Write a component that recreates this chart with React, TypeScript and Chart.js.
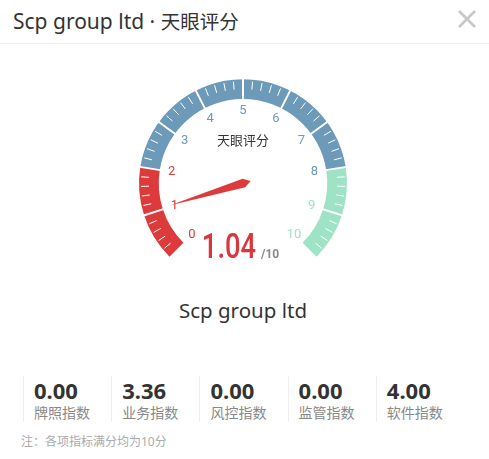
import React, { useEffect, useRef } from 'react';
import { Chart, registerables } from 'chart.js';

Chart.register(...registerables);

// ---- data ----
const segmentNames = ['低', '中', '高'];
const segmentSizes = [2, 6, 2];
const segmentColors = ['#dd3b3b', '#6c9ab8', '#9fe3c7'];
const tickLabels = ['0', '1', '2', '3', '4', '5', '6', '7', '8', '9', '10'];
const scoreValue = 1.04;
const scoreMax = 10;
const gaugeTitle = '天眼评分';
const companyName = 'Scp group ltd';
const headerName = 'Scp group ltd · ';
const headerSuffix = '天眼评分';
const indexNames = ['牌照指数', '业务指数', '风控指数', '监管指数', '软件指数'];
const indexValues = [0.0, 3.36, 0.0, 0.0, 4.0];
const noteText = '注：各项指标满分均为10分';

const FONT = "'Noto Sans', 'Noto Sans CJK SC', sans-serif";

function colorFor(v: number): string {
  let acc = 0;
  for (let i = 0; i < segmentSizes.length; i++) {
    acc += segmentSizes[i];
    if (v <= acc) return segmentColors[i];
  }
  return segmentColors[segmentColors.length - 1];
}

const gaugePlugin = {
  id: 'gaugeDecor',
  afterDatasetsDraw(chart: any) {
    const meta = chart.getDatasetMeta(0);
    const arcs = meta.data as any[];
    if (!arcs.length) return;
    const first = arcs[0];
    const last = arcs[arcs.length - 1];
    const cx = first.x;
    const cy = first.y;
    const R = first.outerRadius;
    const r = first.innerRadius;
    const a0 = first.startAngle;
    const a1 = last.endAngle;
    const ang = (v: number) => a0 + ((a1 - a0) * v) / scoreMax;
    const ctx: CanvasRenderingContext2D = chart.ctx;
    ctx.save();
    // ticks
    ctx.strokeStyle = '#ffffff';
    const sub = 5;
    for (let i = 0; i <= scoreMax * sub; i++) {
      const a = ang(i / sub);
      const c = Math.cos(a);
      const s = Math.sin(a);
      if (i % sub === 0) {
        if (i === 0 || i === scoreMax * sub) continue;
        ctx.lineWidth = 2;
        ctx.beginPath();
        ctx.moveTo(cx + c * (r - 0.5), cy + s * (r - 0.5));
        ctx.lineTo(cx + c * (R + 0.5), cy + s * (R + 0.5));
        ctx.stroke();
      } else {
        ctx.lineWidth = 1;
        ctx.beginPath();
        ctx.moveTo(cx + c * (R - 10), cy + s * (R - 10));
        ctx.lineTo(cx + c * (R - 2), cy + s * (R - 2));
        ctx.stroke();
      }
    }
    // labels
    ctx.font = "13px Roboto, 'Noto Sans', sans-serif";
    ctx.textAlign = 'center';
    ctx.textBaseline = 'middle';
    tickLabels.forEach((t, i) => {
      const v = (i * scoreMax) / (tickLabels.length - 1);
      const a = ang(v);
      const lr = r - 12;
      ctx.fillStyle = colorFor(v);
      ctx.fillText(t, cx + Math.cos(a) * lr, cy + Math.sin(a) * lr);
    });
    // gauge title
    ctx.fillStyle = '#333333';
    ctx.font = "13px 'Noto Sans CJK SC', sans-serif";
    ctx.fillText(gaugeTitle, cx, cy - 43);
    // needle
    const na = ang(scoreValue);
    ctx.translate(cx, cy);
    ctx.rotate(na);
    ctx.fillStyle = colorFor(scoreValue);
    ctx.beginPath();
    ctx.moveTo(76, 0);
    ctx.lineTo(-1, -4.5);
    ctx.lineTo(-8, 0);
    ctx.lineTo(-1, 4.5);
    ctx.closePath();
    ctx.fill();
    ctx.setTransform(chart.currentDevicePixelRatio || 1, 0, 0, chart.currentDevicePixelRatio || 1, 0, 0);
    // value text
    ctx.textBaseline = 'alphabetic';
    ctx.save();
    ctx.translate(cx + 13, cy + 75);
    ctx.scale(0.78, 1);
    ctx.textAlign = 'right';
    ctx.fillStyle = '#d9363e';
    ctx.font = "500 35px Roboto, sans-serif";
    ctx.fillText(scoreValue.toFixed(2), 0, 0);
    ctx.restore();
    ctx.textAlign = 'left';
    ctx.fillStyle = '#888888';
    ctx.font = "bold 12px Roboto, sans-serif";
    ctx.fillText('/' + scoreMax, cx + 18, cy + 75);
    ctx.restore();
  },
};

function Gauge() {
  const ref = useRef<HTMLCanvasElement | null>(null);
  useEffect(() => {
    if (!ref.current) return;
    const chart = new Chart(ref.current, {
      type: 'doughnut',
      data: {
        labels: segmentNames,
        datasets: [
          {
            data: segmentSizes,
            backgroundColor: segmentColors,
            borderWidth: 0,
            hoverOffset: 0,
          },
        ],
      },
      options: {
        animation: false,
        responsive: false,
        rotation: -135,
        circumference: 270,
        cutout: '81%',
        radius: 104,
        layout: { padding: { top: 6 } },
        events: [],
        plugins: {
          legend: { display: false },
          tooltip: { enabled: false },
        },
      },
      plugins: [gaugePlugin],
    } as any);
    return () => chart.destroy();
  }, []);
  return (
    <canvas
      ref={ref}
      width={486}
      height={230}
      style={{ position: 'absolute', left: 0, top: 50, width: 486, height: 230 }}
    />
  );
}

export default function App() {
  return (
    <div
      style={{
        position: 'absolute',
        left: 0,
        top: 0,
        width: 489,
        height: 459,
        background: '#ffffff',
        fontFamily: FONT,
        overflow: 'hidden',
      }}
    >
      <div
        style={{
          position: 'absolute',
          left: 13,
          top: 0,
          height: 43,
          lineHeight: '43px',
          color: '#333333',
          whiteSpace: 'nowrap',
        }}
      >
        <span style={{ fontSize: 21 }}>{headerName}</span>
        <span style={{ fontSize: 19.5 }}>{headerSuffix}</span>
      </div>
      <svg
        width={20}
        height={20}
        style={{ position: 'absolute', left: 457, top: 9 }}
        viewBox="0 0 20 20"
      >
        <path d="M2 2 L18 18 M18 2 L2 18" stroke="#c8c8c8" strokeWidth={2.6} />
      </svg>
      <div
        style={{
          position: 'absolute',
          left: 0,
          top: 43,
          width: 489,
          height: 1,
          background: '#eeeeee',
        }}
      />
      <Gauge />
      <div
        style={{
          position: 'absolute',
          left: 0,
          width: 486,
          top: 296,
          height: 28,
          lineHeight: '28px',
          textAlign: 'center',
          fontSize: 20.5,
          color: '#333333',
        }}
      >
        {companyName}
      </div>
      {indexNames.map((name, i) => {
        const left = 23 + i * 88.2;
        return (
          <div key={name}>
            <div
              style={{
                position: 'absolute',
                left,
                top: 376,
                width: 1,
                height: 46,
                background: '#eeeeee',
              }}
            />
            <div
              style={{
                position: 'absolute',
                left: left + 11,
                top: 376,
                height: 28,
                lineHeight: '28px',
                fontSize: 22,
                fontWeight: 700,
                color: '#333333',
              }}
            >
              {indexValues[i].toFixed(2)}
            </div>
            <div
              style={{
                position: 'absolute',
                left: left + 11,
                top: 403,
                height: 20,
                lineHeight: '20px',
                fontSize: 14,
                color: '#888888',
                whiteSpace: 'nowrap',
              }}
            >
              {name}
            </div>
          </div>
        );
      })}
      <div
        style={{
          position: 'absolute',
          left: 21,
          top: 433,
          height: 18,
          lineHeight: '18px',
          fontSize: 12,
          color: '#aaaaaa',
          whiteSpace: 'nowrap',
        }}
      >
        {noteText}
      </div>
    </div>
  );
}
